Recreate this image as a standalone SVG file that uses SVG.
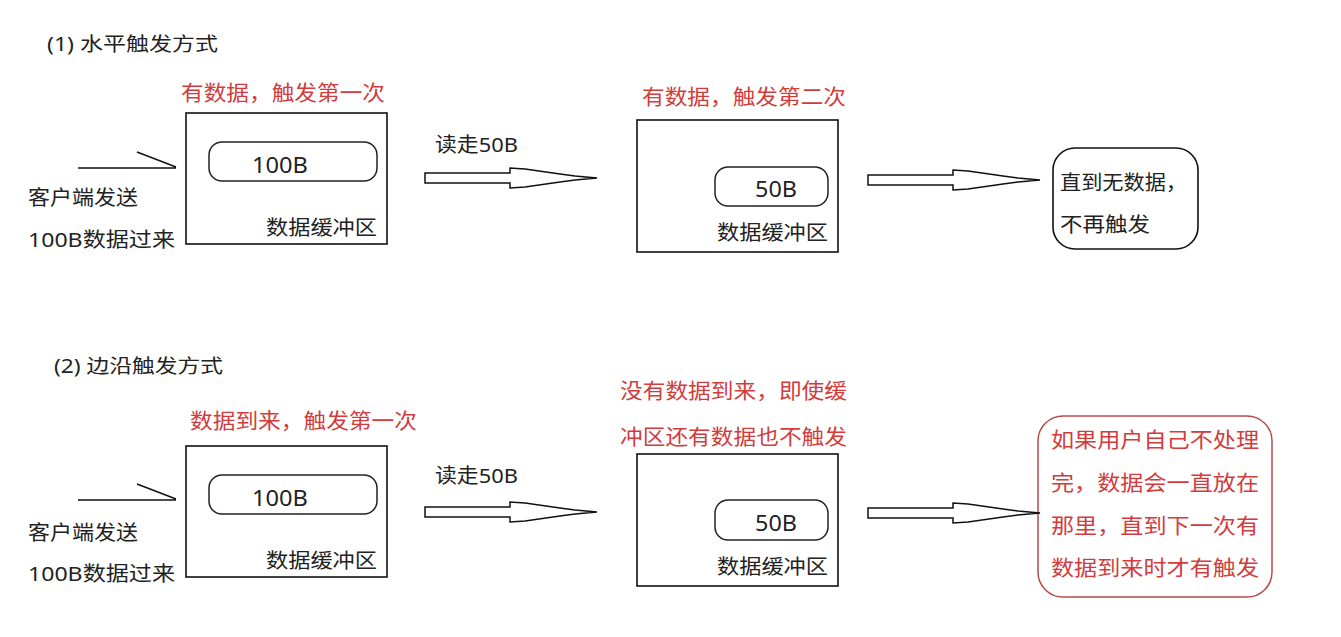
<svg xmlns="http://www.w3.org/2000/svg" width="1341" height="637" viewBox="0 0 1341 637">
<style>
  text { font-family: "Noto Sans", "Noto Sans CJK SC", sans-serif; }
  .blk { fill: #222; font-size: 20px; }
  .red { fill: #d23c3c; font-size: 21px; }
  .num { fill: #222; font-size: 22px; }
  .title { fill: #222; font-size: 19px; }
  .box { fill: none; stroke: #111; stroke-width: 1.6; }
  .pill { fill: none; stroke: #222; stroke-width: 1.5; }
  .rbox { fill: none; stroke: #b84a4a; stroke-width: 1.5; }
  .line { fill: none; stroke: #111; stroke-width: 1.4; }
  .arrow { fill: #fff; stroke: #111; stroke-width: 1.5; stroke-linejoin: miter; }
</style>
<defs>
  <path id="bigArrow" d="M0,-5 H85 V-10 L100,-9 L135,-4 L150,-2 L172,0 L150,2 L135,4 L100,9 L85,10 V5 H0 Z"/>
</defs>
<rect width="1341" height="637" fill="#fff"/>

<!-- Section 1 -->
<g id="title1"><text class="title" x="47" y="51" textLength="171" lengthAdjust="spacingAndGlyphs">(1) 水平触发方式</text></g>

<g id="client1">
  <text class="blk" x="28" y="205" textLength="110" lengthAdjust="spacingAndGlyphs">客户端发送</text>
  <text class="blk" x="28" y="247" textLength="147" lengthAdjust="spacingAndGlyphs">100B数据过来</text>
</g>

<g id="buffer1">
  <text class="red" x="181" y="100" textLength="204" lengthAdjust="spacingAndGlyphs">有数据，触发第一次</text>
  <rect class="box" x="186" y="113" width="201" height="131"/>
  <rect class="pill" x="209" y="142" width="168" height="39" rx="13"/>
  <text class="num" x="252" y="173" textLength="56" lengthAdjust="spacingAndGlyphs">100B</text>
  <text class="blk" x="266" y="235" textLength="111" lengthAdjust="spacingAndGlyphs">数据缓冲区</text>
</g>

<g id="buffer2">
  <text class="red" x="642" y="104" textLength="204" lengthAdjust="spacingAndGlyphs">有数据，触发第二次</text>
  <rect class="box" x="637" y="120" width="201" height="132"/>
  <rect class="pill" x="715" y="167" width="113" height="39" rx="13"/>
  <text class="num" x="755" y="197" textLength="42" lengthAdjust="spacingAndGlyphs">50B</text>
  <text class="blk" x="717" y="240" textLength="111" lengthAdjust="spacingAndGlyphs">数据缓冲区</text>
</g>

<g id="result1">
  <rect class="box" x="1053" y="148" width="145" height="101" rx="22"/>
  <text class="blk" x="1060" y="190" textLength="127" lengthAdjust="spacingAndGlyphs">直到无数据，</text>
  <text class="blk" x="1060" y="232" textLength="90" lengthAdjust="spacingAndGlyphs">不再触发</text>
</g>

<!-- Section 2 -->
<g id="title2"><text class="title" x="54" y="373" textLength="169" lengthAdjust="spacingAndGlyphs">(2) 边沿触发方式</text></g>

<g id="client2">
  <text class="blk" x="28" y="540" textLength="110" lengthAdjust="spacingAndGlyphs">客户端发送</text>
  <text class="blk" x="28" y="581" textLength="147" lengthAdjust="spacingAndGlyphs">100B数据过来</text>
</g>

<g id="buffer3">
  <text class="red" x="190" y="428" textLength="227" lengthAdjust="spacingAndGlyphs">数据到来，触发第一次</text>
  <rect class="box" x="186" y="446" width="201" height="131"/>
  <rect class="pill" x="209" y="475" width="168" height="39" rx="13"/>
  <text class="num" x="252" y="506" textLength="56" lengthAdjust="spacingAndGlyphs">100B</text>
  <text class="blk" x="266" y="568" textLength="111" lengthAdjust="spacingAndGlyphs">数据缓冲区</text>
</g>

<g id="buffer4">
  <text class="red" x="620" y="398" textLength="227" lengthAdjust="spacingAndGlyphs">没有数据到来，即使缓</text>
  <text class="red" x="620" y="444" textLength="227" lengthAdjust="spacingAndGlyphs">冲区还有数据也不触发</text>
  <rect class="box" x="637" y="454" width="201" height="132"/>
  <rect class="pill" x="715" y="500" width="113" height="40" rx="13"/>
  <text class="num" x="755" y="531" textLength="42" lengthAdjust="spacingAndGlyphs">50B</text>
  <text class="blk" x="717" y="574" textLength="111" lengthAdjust="spacingAndGlyphs">数据缓冲区</text>
</g>

<g id="result2">
  <rect class="rbox" x="1038" y="416" width="234" height="181" rx="25"/>
  <text class="red" x="1051" y="447" textLength="208" lengthAdjust="spacingAndGlyphs">如果用户自己不处理</text>
  <text class="red" x="1051" y="490" textLength="208" lengthAdjust="spacingAndGlyphs">完，数据会一直放在</text>
  <text class="red" x="1051" y="533" textLength="208" lengthAdjust="spacingAndGlyphs">那里，直到下一次有</text>
  <text class="red" x="1051" y="575" textLength="208" lengthAdjust="spacingAndGlyphs">数据到来时才有触发</text>
</g>

<!-- Connectors -->
<g id="connectors">
  <path class="line" d="M78,168 H176 M137,152 L176,167"/>
  <path class="line" d="M78,500 H176 M137,484 L176,499"/>
  <use href="#bigArrow" class="arrow" transform="translate(425,178)"/>
  <text class="blk" x="435" y="152" textLength="83" lengthAdjust="spacingAndGlyphs">读走50B</text>
  <use href="#bigArrow" class="arrow" transform="translate(868,180)"/>
  <use href="#bigArrow" class="arrow" transform="translate(425,512)"/>
  <text class="blk" x="435" y="483" textLength="83" lengthAdjust="spacingAndGlyphs">读走50B</text>
  <use href="#bigArrow" class="arrow" transform="translate(868,513)"/>
</g>
</svg>
